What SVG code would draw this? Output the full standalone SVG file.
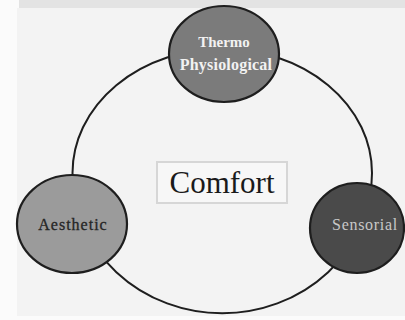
<svg xmlns="http://www.w3.org/2000/svg" width="405" height="320" viewBox="0 0 405 320">
  <defs>
    <style>
      .ring { fill: none; stroke: #1e1e1e; stroke-width: 2; }
      .node { stroke: #1e1e1e; stroke-width: 2.2; }
      .lbl { font-family: "Liberation Serif", "Times New Roman", serif; text-anchor: middle; }
    </style>
  </defs>
  <rect x="0" y="0" width="405" height="320" fill="#fbfbfb"/>
  <rect x="17" y="8" width="388" height="308" fill="#f3f3f3"/>
  <rect x="19" y="0" width="386" height="8" fill="#e3e3e3"/>

  <g id="connectors">
    <path class="ring" d="M 72.5 173 A 149.5 124 0 0 1 372 173 A 149.5 140 0 0 1 72.5 173 Z"/>
  </g>

  <g id="comfort">
    <rect x="157" y="162" width="130" height="41" fill="#f7f7f7" stroke="#d6d6d6" stroke-width="2"/>
    <text class="lbl" x="222" y="193" font-size="31" fill="#1a1a1a">Comfort</text>
  </g>

  <g id="thermo">
    <ellipse class="node" cx="224" cy="54" rx="55" ry="48" fill="#7b7b7b"/>
    <text class="lbl" x="224" y="47" font-size="15" font-weight="bold" fill="#f2f2f2">Thermo</text>
    <text class="lbl" x="226" y="70" font-size="16" font-weight="bold" letter-spacing="0.2" fill="#f2f2f2">Physiological</text>
  </g>

  <g id="aesthetic">
    <ellipse class="node" cx="72" cy="224" rx="55" ry="49" fill="#9b9b9b"/>
    <text class="lbl" x="73" y="230" font-size="16" letter-spacing="1" fill="#262626" stroke="#262626" stroke-width="0.3">Aesthetic</text>
  </g>

  <g id="sensorial">
    <ellipse class="node" cx="357" cy="228" rx="47" ry="45" fill="#4a4a4a"/>
    <text class="lbl" x="365" y="230" font-size="16" letter-spacing="0.7" fill="#c8c8c8">Sensorial</text>
  </g>
</svg>
